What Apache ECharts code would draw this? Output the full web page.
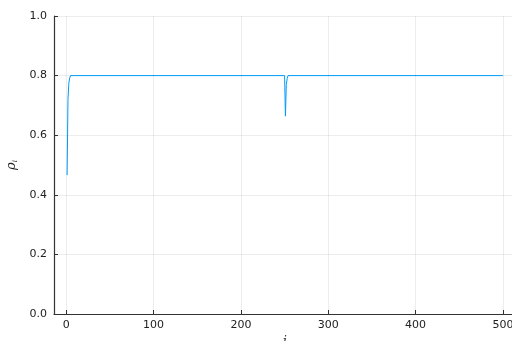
<!DOCTYPE html>
<html>
<head>
<meta charset="utf-8">
<script src="https://cdn.jsdelivr.net/npm/echarts@6/dist/echarts.min.js"></script>
<style>
  html, body { margin: 0; padding: 0; background: #fff; }
  #chart { width: 512px; height: 341px; }
</style>
</head>
<body>
<div id="chart"></div>
<script>
// Index i and the value of rho_i at that index; the line is flat at 0.8
// between the listed points, with a start-up transient and a dip near i = 251.
const iValues   = [1, 2, 3, 4, 5, 250, 251, 252, 253, 254, 500];
const rhoValues = [0.466, 0.72, 0.775, 0.792, 0.8, 0.8, 0.664, 0.77, 0.79, 0.8, 0.8];

const xTicks = [0, 100, 200, 300, 400, 500];

const points = iValues.map((v, k) => [v, rhoValues[k]]);

const axisColor = '#333333';
const gridColor = 'rgba(0,0,0,0.07)';
const font = 'DejaVu Sans';

const chart = echarts.init(document.getElementById('chart'), null, { renderer: 'canvas' });
chart.setOption({
  animation: false,
  backgroundColor: '#ffffff',
  grid: {
    left: 54, top: 16, width: 462, height: 298,
    containLabel: false,
    outerBoundsMode: 'none'
  },
  xAxis: {
    type: 'value',
    min: -14,
    max: 515,
    name: 'i',
    nameLocation: 'middle',
    nameGap: 22,
    nameTextStyle: { fontFamily: 'DejaVu Serif', fontStyle: 'italic', fontSize: 12, color: '#222' },
    axisLine: { show: true, onZero: false, lineStyle: { color: axisColor, width: 1.2 } },
    axisTick: { show: true, inside: true, length: 4, customValues: xTicks, lineStyle: { color: axisColor } },
    axisLabel: {
      fontFamily: font, fontSize: 11, color: '#222', margin: 6,
      customValues: xTicks,
      formatter: v => String(v)
    },
    splitLine: { show: false }
  },
  yAxis: {
    type: 'value',
    min: 0,
    max: 1,
    interval: 0.2,
    name: '{r|ρ}{s|i}',
    nameLocation: 'middle',
    nameGap: 30,
    nameRotate: 90,
    nameTextStyle: {
      rich: {
        r: { fontFamily: 'DejaVu Serif', fontStyle: 'italic', fontSize: 13, color: '#222' },
        s: { fontFamily: 'DejaVu Serif', fontStyle: 'italic', fontSize: 7, color: '#222', padding: [6, 0, 0, 0] }
      }
    },
    axisLine: { show: true, onZero: false, lineStyle: { color: axisColor, width: 1.2 } },
    axisTick: { show: true, inside: true, length: 4, lineStyle: { color: axisColor } },
    axisLabel: {
      fontFamily: font, fontSize: 11, color: '#222', margin: 7,
      formatter: v => v.toFixed(1)
    },
    splitLine: { show: true, lineStyle: { color: gridColor, width: 1 } }
  },
  series: [{
    type: 'line',
    data: points,
    showSymbol: false,
    symbol: 'none',
    smooth: false,
    lineStyle: { color: '#009AFA', width: 1 },
    clip: true,
    // vertical grid lines at the x tick positions
    markLine: {
      silent: true,
      symbol: 'none',
      label: { show: false },
      lineStyle: { color: gridColor, width: 1, type: 'solid' },
      data: xTicks.map(v => ({ xAxis: v }))
    }
  }]
});
</script>
</body>
</html>
